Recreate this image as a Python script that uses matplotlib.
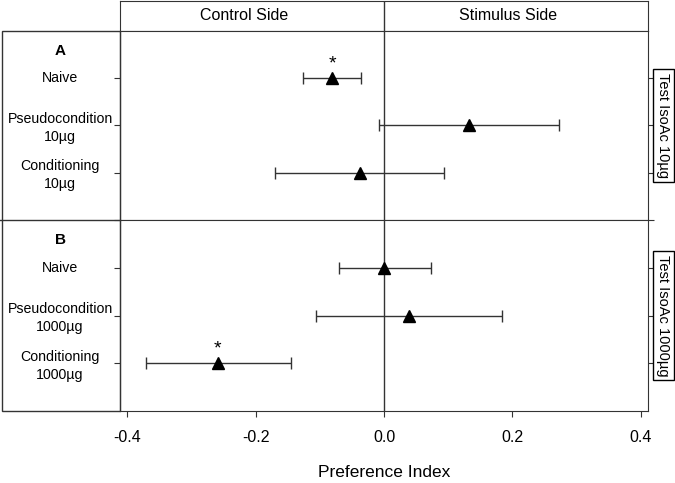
import matplotlib
matplotlib.use('Agg')
import matplotlib.pyplot as plt
from matplotlib.lines import Line2D
from matplotlib.patches import Rectangle

plt.rcParams['font.family'] = ['Liberation Sans', 'DejaVu Sans']

# panel A: test IsoAc 10ug
labels_a = ["Naive", "Pseudocondition\n10\u00b5g", "Conditioning\n10\u00b5g"]
mean_a = [-0.081, 0.132, -0.037]
low_a = [-0.126, -0.008, -0.170]
high_a = [-0.036, 0.273, 0.093]
sig_a = [True, False, False]

# panel B: test IsoAc 1000ug
labels_b = ["Naive", "Pseudocondition\n1000\u00b5g", "Conditioning\n1000\u00b5g"]
mean_b = [0.000, 0.039, -0.259]
low_b = [-0.070, -0.106, -0.371]
high_b = [0.073, 0.184, -0.145]
sig_b = [False, False, True]

xticks = [-0.4, -0.2, 0.0, 0.2, 0.4]
sides = ["Control Side", "Stimulus Side"]
strips = ["Test IsoAc 10\u00b5g", "Test IsoAc 1000\u00b5g"]

W, H = 675, 483
fig = plt.figure(figsize=(W / 100, H / 100), dpi=100)
lc = '#333333'

def px(x0, y0, x1, y1):
    return [x0 / W, 1 - y1 / H, (x1 - x0) / W, (y1 - y0) / H]

ax_h = fig.add_axes(px(120, 1, 648, 31))
ax_a = fig.add_axes(px(120, 31, 648, 220))
ax_b = fig.add_axes(px(120, 220, 648, 411))

xlim = (-0.411, 0.411)

ax_h.set_xlim(xlim)
ax_h.set_ylim(0, 1)
ax_h.set_xticks([])
ax_h.set_yticks([])
ax_h.axvline(0, color=lc, lw=1)
ax_h.text(-0.218, 0.5, sides[0], ha='center', va='center', fontsize=11.5)
ax_h.text(0.193, 0.5, sides[1], ha='center', va='center', fontsize=11.5)
for s in ax_h.spines.values():
    s.set_color(lc)

panels = [
    (ax_a, labels_a, mean_a, low_a, high_a, sig_a, 'A', strips[0], [1, 2, 3, 4]),
    (ax_b, labels_b, mean_b, low_b, high_b, sig_b, 'B', strips[1], [1, 2, 3]),
]

for ax, labs, m, lo, hi, sig, letter, strip, yt in panels:
    pos = [1, 2, 3]
    err = [[mi - l for mi, l in zip(m, lo)], [h - mi for mi, h in zip(m, hi)]]
    ax.axvline(0, color=lc, lw=1, zorder=1)
    ax.errorbar(m, pos, xerr=err, fmt='none', ecolor=lc, elinewidth=1,
                capsize=4.5, capthick=1, zorder=2)
    ax.plot(m, pos, '^', color='black', markersize=9, zorder=3)
    for xi, yi, s in zip(m, pos, sig):
        if s:
            ax.annotate('*', (xi, yi), xytext=(0, 10), textcoords='offset points',
                        ha='center', va='center', fontsize=14)
    ax.set_xlim(xlim)
    ax.set_ylim(4, 0)
    ax.set_yticks(yt)
    ax.set_yticklabels([])
    ax.tick_params(axis='y', left=True, right=True, direction='out', length=4,
                   color=lc)
    tr = ax.get_yaxis_transform()
    for yi, lab in zip(pos, labs):
        ax.text(-0.1136, yi + (0.05 if '\n' in lab else 0), lab, transform=tr,
                ha='center', va='center', fontsize=10.2, linespacing=1.35,
                multialignment='center')
    ax.text(-0.1136, 0.42, letter, transform=tr, ha='center', va='center',
            fontsize=11, fontweight='bold')
    ax.text(1.029, 0.5, strip, transform=ax.transAxes, rotation=-90,
            ha='center', va='center', fontsize=10.5,
            bbox=dict(boxstyle='square,pad=0.25', fc='white', ec='black', lw=1))
    for s in ax.spines.values():
        s.set_color(lc)

ax_a.set_xticks([])
ax_b.set_xticks(xticks)
ax_b.set_xticklabels([f'{t:.1f}' for t in xticks], fontsize=11.5)
ax_b.tick_params(axis='x', direction='out', length=4, pad=10, color=lc)
ax_b.set_xlabel('Preference Index', fontsize=12.5, labelpad=14)

# left label box
fig.add_artist(Rectangle((2 / W, 1 - 411 / H), 118 / W, 380 / H,
                         transform=fig.transFigure, fill=False, ec=lc, lw=1))
fig.add_artist(Line2D([0, 120 / W], [1 - 220 / H, 1 - 220 / H],
                      transform=fig.transFigure, color=lc, lw=1))

fig.savefig('out.png', dpi=100)
